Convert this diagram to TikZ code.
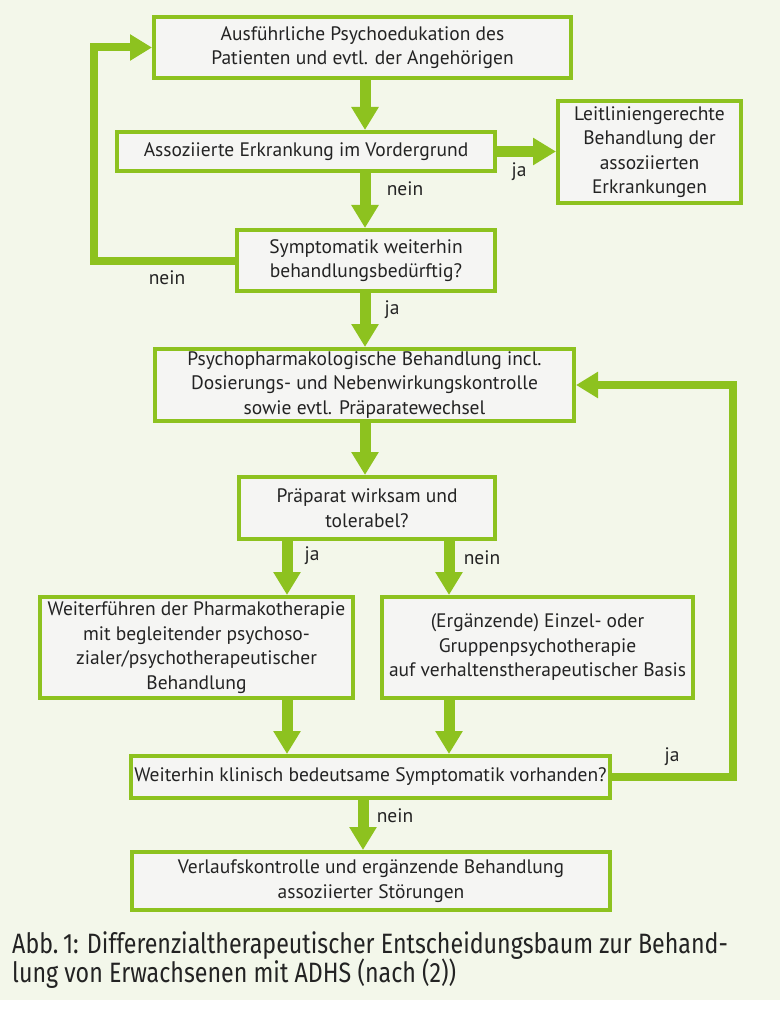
\documentclass[tikz,border=0pt]{standalone}
\usepackage{fontspec}
\setmainfont{PT Sans}
\newfontfamily\capfont[FakeStretch=0.83]{Fira Sans}
\usetikzlibrary{arrows.meta}
\definecolor{grn}{RGB}{141,194,31}
\definecolor{bgc}{RGB}{243,247,234}
\definecolor{boxf}{RGB}{245,245,243}
\definecolor{txt}{RGB}{35,35,35}
\begin{document}
\begin{tikzpicture}[x=1pt,y=-1pt,
  bx/.style={draw=grn, line width=4pt, fill=boxf, inner sep=0pt, align=center,
    text=txt, font=\fontsize{19.5}{24.5}\selectfont},
  arr/.style={draw=grn, line width=11pt, -{Triangle[width=26pt,length=23pt]}},
  loop/.style={draw=grn, line width=8pt, -{Triangle[width=25pt,length=22pt]}},
  lbl/.style={text=txt, font=\fontsize{19.5}{24.5}\selectfont, inner sep=0pt},
  captxt/.style={anchor=base west, inner sep=0pt, text=txt,
    font=\capfont\fontsize{28}{29}\selectfont}]
\useasboundingbox (0,0) rectangle (780,1024);
\fill[white] (0,0) rectangle (780,1024);
\fill[bgc] (0,0) rectangle (780,1000);

\node[bx, minimum width=417pt, minimum height=61pt] (b1) at (362.5,47.5)
  {Ausführliche Psychoedukation des\\Patienten und evtl. der Angehörigen};
\node[bx, minimum width=378pt, minimum height=39pt] (b2) at (306,151.5)
  {Assoziierte Erkrankung im Vordergrund};
\node[bx, minimum width=183pt, minimum height=102pt] (b3) at (649.5,152)
  {Leitliniengerechte\\Behandlung der\\assoziierten\\Erkrankungen};
\node[bx, minimum width=258pt, minimum height=61pt] (b4) at (366,260.5)
  {Symptomatik weiterhin\\behandlungsbedürftig?};
\node[bx, minimum width=419pt, minimum height=72pt] (b5) at (364.5,385)
  {Psychopharmakologische Behandlung incl.\\Dosierungs- und Nebenwirkungskontrolle\\sowie evtl. Präparatewechsel};
\node[bx, minimum width=256pt, minimum height=62pt] (b6) at (367,508)
  {Präparat wirksam und\\tolerabel?};
\node[bx, minimum width=313pt, minimum height=101pt] (b7) at (196.5,647.5)
  {Weiterführen der Pharmakotherapie\\mit begleitender psychoso-\\zialer/psychotherapeutischer\\Behandlung};
\node[bx, minimum width=311pt, minimum height=101pt] (b8) at (537.5,647.5)
  {(Ergänzende) Einzel- oder\\Gruppenpsychotherapie\\auf verhaltenstherapeutischer Basis};
\node[bx, minimum width=479pt, minimum height=42pt] (b9) at (370.5,777)
  {Weiterhin klinisch bedeutsame Symptomatik vorhanden?};
\node[bx, minimum width=478pt, minimum height=58pt] (b10) at (371,881)
  {Verlaufskontrolle und ergänzende Behandlung\\assoziierter Störungen};

\coordinate (xm) at (365,0);
\coordinate (xa) at (287,0);
\coordinate (xb) at (449,0);
\coordinate (xn) at (363,0);
\coordinate (xl) at (94,0);
\coordinate (xr) at (733,0);

\draw[arr] (b1.south -| xm) -- (b2.north -| xm);
\draw[arr] (b2.south -| xm) -- (b4.north -| xm);
\draw[arr] (b2.east) -- (b3.west |- b2.east);
\draw[arr] (b4.south -| xm) -- (b5.north -| xm);
\draw[arr] (b5.south -| xm) -- (b6.north -| xm);
\draw[arr] (b6.south -| xa) -- (b7.north -| xa);
\draw[arr] (b6.south -| xb) -- (b8.north -| xb);
\draw[arr] (b7.south -| xa) -- (b9.north -| xa);
\draw[arr] (b8.south -| xb) -- (b9.north -| xb);
\draw[arr] (b9.south -| xn) -- (b10.north -| xn);
\draw[loop] (b4.west) -- (b4.west -| xl) -- (b1.west -| xl) -- (b1.west);
\draw[loop] (b9.east) -- (b9.east -| xr) -- (b5.east -| xr) -- (b5.east);

\node[lbl] (l1) at (519,172) {ja};
\node[lbl] (l2) at (405,189) {nein};
\node[lbl] (l3) at (167,278) {nein};
\node[lbl] (l4) at (392,310) {ja};
\node[lbl] (l5) at (312,556) {ja};
\node[lbl] (l6) at (482,558) {nein};
\node[lbl] (l7) at (672,757) {ja};
\node[lbl] (l8) at (395,816) {nein};

\node[captxt] (cap1) at (12,953)
  {Abb.\,1: Differenzialtherapeutischer Entscheidungsbaum zur Behand-};
\node[captxt] (cap2) at (12,982)
  {lung von Erwachsenen mit ADHS (nach (2))};
\end{tikzpicture}
\end{document}
